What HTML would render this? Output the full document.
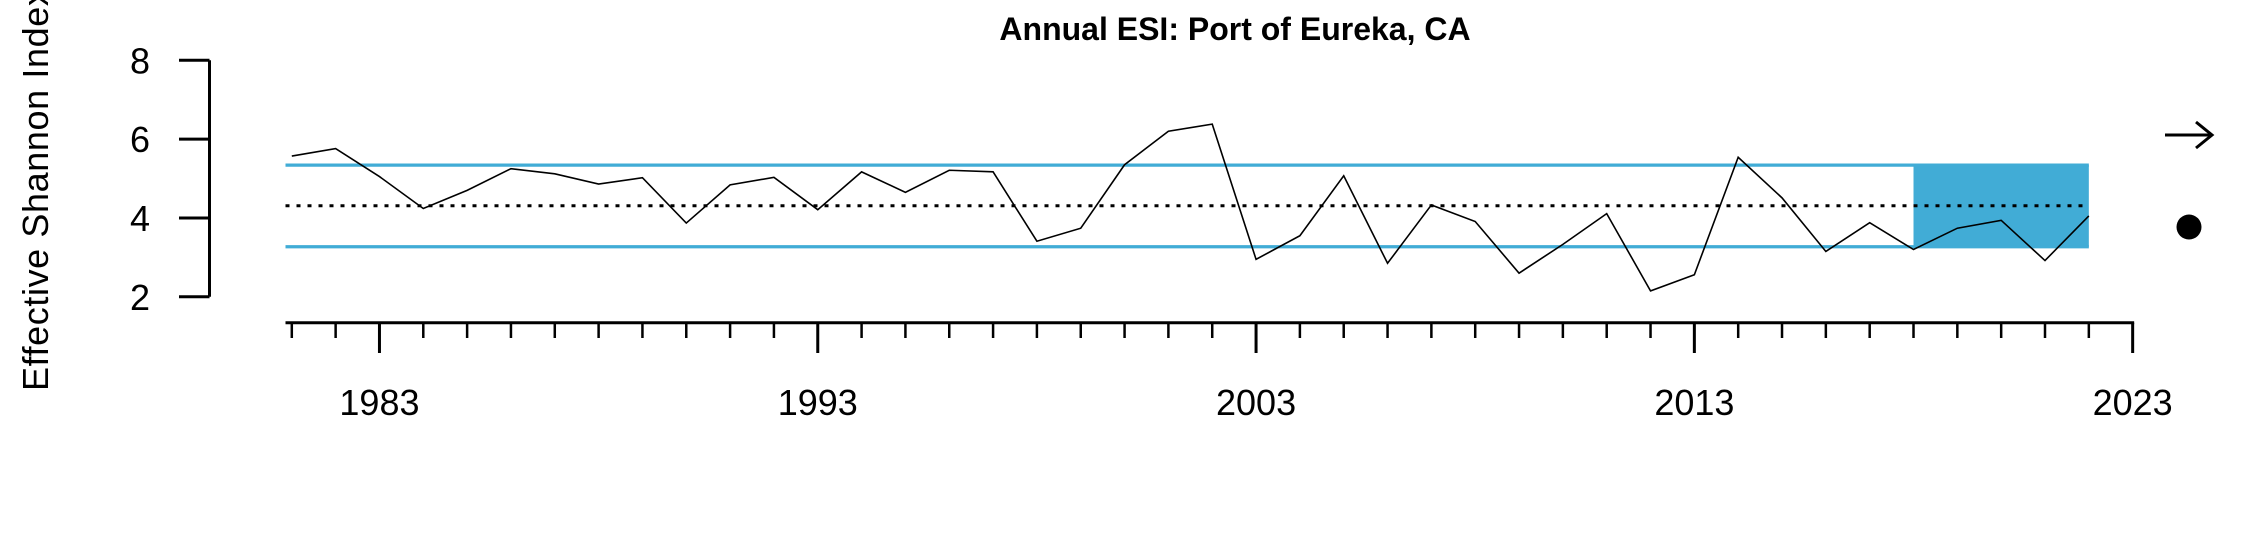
<!DOCTYPE html>
<html><head><meta charset="utf-8"><style>
html,body{margin:0;padding:0;background:#fff;}
svg{display:block;font-family:"Liberation Sans",Arial,sans-serif;}
</style></head><body>
<svg id="chart" width="2250" height="540" viewBox="0 0 2250 540">
<text x="1235" y="40" text-anchor="middle" font-size="32" font-weight="bold">Annual ESI: Port of Eureka, CA</text>
<text transform="translate(48,391) rotate(-90)" font-size="36" letter-spacing="0.6">Effective Shannon Index</text>
<g id="yaxis"></g>
<g id="xaxis"></g>
<g id="marks"></g>
<g stroke="#000" stroke-width="3" fill="none">
<line x1="2165" y1="135" x2="2212" y2="135"/><polyline points="2196,122 2212,135 2196,148"/>
</g>
<circle cx="2189" cy="227" r="12.5" fill="#000"/>
</svg>
<script>
const years=[1981,1982,1983,1984,1985,1986,1987,1988,1989,1990,1991,1992,1993,1994,1995,1996,1997,1998,1999,2000,2001,2002,2003,2004,2005,2006,2007,2008,2009,2010,2011,2012,2013,2014,2015,2016,2017,2018,2019,2020,2021,2022];
const esi=[5.57,5.76,5.05,4.24,4.70,5.25,5.12,4.86,5.02,3.87,4.84,5.03,4.21,5.17,4.65,5.21,5.17,3.41,3.74,5.35,6.20,6.38,2.95,3.55,5.07,2.85,4.33,3.91,2.60,3.33,4.11,2.15,2.56,5.54,4.51,3.15,3.88,3.20,3.74,3.94,2.92,4.05];
const meanVal=[4.31];
const bandVals=[3.27,5.34];
const recentStart=[2018];
const yTicks=[2,4,6,8];
const xMajor=[1983,1993,2003,2013,2023];
const xMinorRange=[1981,2023];
const NS="http://www.w3.org/2000/svg";
function X(yr){return 291.8+(yr-1981)*43.83;}
function Y(v){return 296.8-(v-2)*39.42;}
function mk(parent,tag,attrs){const e=document.createElementNS(NS,tag);for(const k in attrs)e.setAttribute(k,attrs[k]);parent.appendChild(e);return e;}
const ya=document.getElementById('yaxis'),xa=document.getElementById('xaxis'),mg=document.getElementById('marks');
let l=mk(ya,'line',{x1:209.5,x2:209.5,y1:Y(8),y2:Y(2),stroke:'#000','stroke-width':3});


yTicks.forEach(v=>{
 const t=mk(ya,'line',{x1:179,x2:209.5,y1:Y(v),y2:Y(v),stroke:'#000','stroke-width':3});
 
 
 const tx=mk(ya,'text',{x:140,y:Y(v)+13,'text-anchor':'middle','font-size':36});tx.textContent=v;
 
 
});
l=mk(xa,'line',{x1:285.5,x2:X(2023)+1.5,y1:322.7,y2:322.7,stroke:'#000','stroke-width':3});


for(let yr=xMinorRange[0];yr<=xMinorRange[1];yr++){
 const maj=xMajor.includes(yr);
 const t=mk(xa,'line',{x1:X(yr),x2:X(yr),y1:322.7,y2:maj?353:338,stroke:'#000','stroke-width':maj?3:2.5});
 
 
}
xMajor.forEach(yr=>{
 const tx=mk(xa,'text',{x:X(yr),y:415,'text-anchor':'middle','font-size':36});tx.textContent=yr;
 
 
});
const xEnd=X(years[years.length-1]);
let r=mk(mg,'rect',{x:X(recentStart[0]),y:Y(bandVals[1]),width:xEnd-X(recentStart[0]),height:Y(bandVals[0])-Y(bandVals[1]),fill:'#41acd6'});


bandVals.forEach(v=>{
 const b=mk(mg,'line',{x1:285.5,x2:xEnd,y1:Y(v),y2:Y(v),stroke:'#41acd6','stroke-width':3.2});
 
 
});
l=mk(mg,'line',{x1:285.5,x2:xEnd,y1:Y(meanVal[0]),y2:Y(meanVal[0]),stroke:'#000','stroke-width':3,'stroke-dasharray':'4 7'});


const pl=mk(mg,'polyline',{points:years.map((yr,i)=>X(yr)+','+Y(esi[i])).join(' '),fill:'none',stroke:'#000','stroke-width':1.6});


</script>
</body></html>
